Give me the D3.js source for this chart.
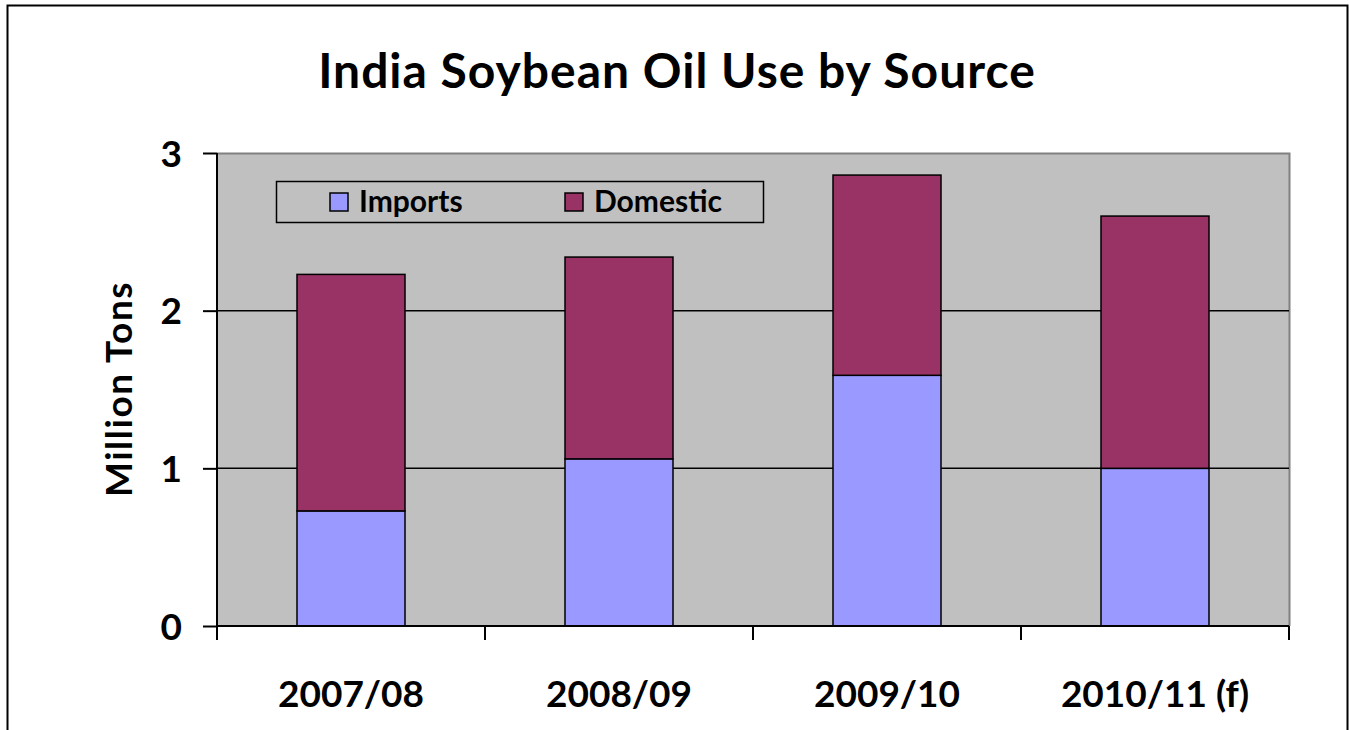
<!DOCTYPE html>
<html>
<head>
<meta charset="utf-8">
<script src="https://cdn.jsdelivr.net/npm/d3@7"></script>
<style>
  body { margin: 0; background: #fff; }
  svg text { font-family: Lato, "Open Sans", sans-serif; font-weight: bold; fill: #000; }
</style>
</head>
<body>
<div id="chart"></div>
<script>
// data
var seasons = ["2007/08", "2008/09", "2009/10", "2010/11 (f)"];
var imports = [0.73, 1.06, 1.59, 1.0];
var domestic = [1.50, 1.28, 1.27, 1.60];
var yTicks = [0, 1, 2, 3];
var seriesNames = ["Imports", "Domestic"];
var colors = ["#9999ff", "#993366"];

var W = 1349, H = 730;
var plot = {left: 217, top: 153, right: 1289, bottom: 626};

var svg = d3.select("#chart").append("svg")
    .attr("width", W)
    .attr("height", H);

// outer frame
svg.append("rect")
    .attr("x", 7.5).attr("y", 5.5)
    .attr("width", 1340).attr("height", 740)
    .attr("fill", "none")
    .attr("stroke", "#000")
    .attr("stroke-width", 2);

var x = d3.scaleBand()
    .domain(seasons)
    .range([plot.left, plot.right])
    .paddingInner(0)
    .paddingOuter(0);

var y = d3.scaleLinear()
    .domain([0, 3])
    .range([plot.bottom, plot.top]);

// plot background
svg.append("rect")
    .attr("x", plot.left).attr("y", plot.top)
    .attr("width", plot.right - plot.left)
    .attr("height", plot.bottom - plot.top)
    .attr("fill", "#c0c0c0");
// grey top and right border
svg.append("path")
    .attr("d", "M" + plot.left + "," + (plot.top + 0.5) + "H" + (plot.right + 0.5) + "V" + plot.bottom)
    .attr("fill", "none")
    .attr("stroke", "#808080")
    .attr("stroke-width", 2);

// gridlines
svg.selectAll("line.grid")
    .data(yTicks.filter(function(d){ return d > 0 && d < 3; }))
    .enter().append("line")
    .attr("class", "grid")
    .attr("x1", plot.left).attr("x2", plot.right)
    .attr("y1", function(d){ return y(d); })
    .attr("y2", function(d){ return y(d); })
    .attr("stroke", "#000")
    .attr("stroke-width", 1.5);

// stacked bars
var rows = seasons.map(function(s, i){ return {season: s, Imports: imports[i], Domestic: domestic[i]}; });
var stack = d3.stack().keys(seriesNames)(rows);
var barW = 108;

svg.selectAll("g.layer")
    .data(stack)
    .enter().append("g")
    .attr("class", "layer")
    .attr("fill", function(d, i){ return colors[i]; })
    .selectAll("rect")
    .data(function(d){ return d; })
    .enter().append("rect")
    .attr("x", function(d){ return x(d.data.season) + x.bandwidth() / 2 - barW / 2; })
    .attr("y", function(d){ return y(d[1]); })
    .attr("width", barW)
    .attr("height", function(d){ return y(d[0]) - y(d[1]); })
    .attr("stroke", "#000")
    .attr("stroke-width", 1.5);

// y axis
var yAxis = d3.axisLeft(y).tickValues(yTicks).tickSize(14).tickPadding(21).tickFormat(d3.format("d"));
var gy = svg.append("g")
    .attr("transform", "translate(" + plot.left + ",0)")
    .call(yAxis);
gy.select(".domain").attr("stroke", "#000").attr("stroke-width", 2).attr("d", "M0," + plot.top + "V" + plot.bottom);
gy.selectAll(".tick line").attr("stroke", "#000").attr("stroke-width", 2);
gy.selectAll(".tick text")
    .style("font-size", "37px")
    .attr("dy", "0.36em");

// x axis: ticks between categories
var xAxis = d3.axisBottom(x).tickSize(0).tickPadding(48);
var gx = svg.append("g")
    .attr("transform", "translate(0," + plot.bottom + ")")
    .call(xAxis);
gx.select(".domain").attr("stroke", "#000").attr("stroke-width", 2).attr("d", "M" + plot.left + ",0H" + plot.right);
gx.selectAll(".tick text")
    .style("font-size", "37px")
    .attr("dy", "0.9em");
var bounds = seasons.map(function(s){ return x(s); }).concat([plot.right]);
gx.selectAll("line.sep")
    .data(bounds)
    .enter().append("line")
    .attr("class", "sep")
    .attr("x1", function(d){ return d; }).attr("x2", function(d){ return d; })
    .attr("y1", 0).attr("y2", 14)
    .attr("stroke", "#000")
    .attr("stroke-width", 2);

// title
svg.append("text")
    .attr("x", 677).attr("y", 88)
    .attr("text-anchor", "middle")
    .style("font-size", "48px")
    .style("letter-spacing", "1px")
    .text("India Soybean Oil Use by Source");

// y axis title
svg.append("text")
    .attr("transform", "translate(132,389) rotate(-90)")
    .attr("text-anchor", "middle")
    .style("font-size", "37px")
    .style("letter-spacing", "1.5px")
    .text("Million Tons");

// legend
var lg = svg.append("g");
lg.append("rect")
    .attr("x", 276.5).attr("y", 181.5)
    .attr("width", 487).attr("height", 41)
    .attr("fill", "#c0c0c0")
    .attr("stroke", "#000")
    .attr("stroke-width", 1.5);
var legX = [330, 565];
var items = lg.selectAll("g.item")
    .data(seriesNames)
    .enter().append("g")
    .attr("class", "item")
    .attr("transform", function(d, i){ return "translate(" + legX[i] + ",193)"; });
items.append("rect")
    .attr("width", 18).attr("height", 18)
    .attr("fill", function(d, i){ return colors[i]; })
    .attr("stroke", "#000")
    .attr("stroke-width", 1.5);
items.append("text")
    .attr("x", 29).attr("y", 19)
    .style("font-size", "30px")
    .text(function(d){ return d; });
</script>
</body>
</html>
